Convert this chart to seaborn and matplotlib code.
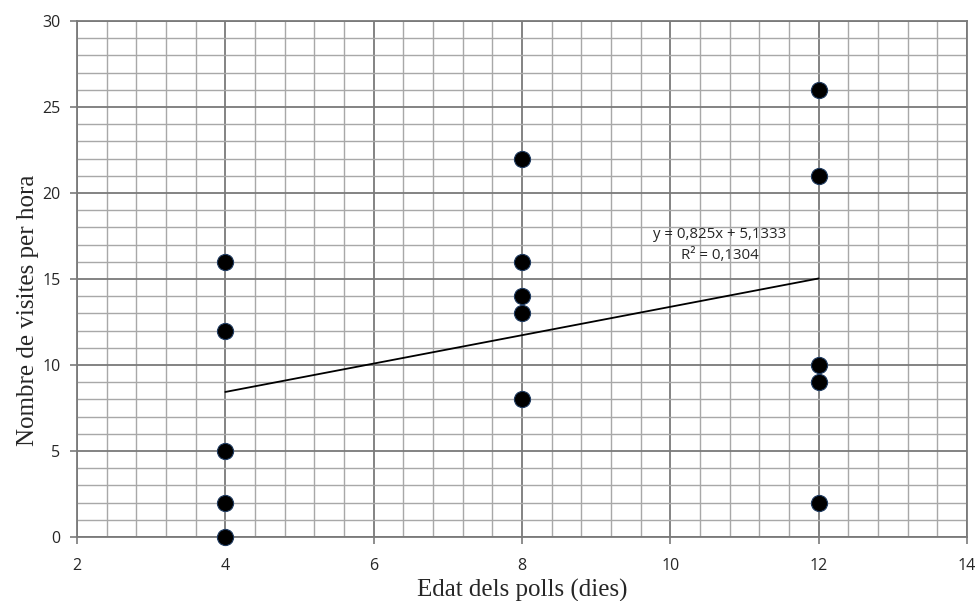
import numpy as np
import pandas as pd
import matplotlib
matplotlib.use("Agg")
import matplotlib.pyplot as plt
import seaborn as sns
from matplotlib.ticker import MultipleLocator

# dades: edat dels polls i visites per hora
edat = [4, 4, 4, 4, 4, 8, 8, 8, 8, 8, 12, 12, 12, 12, 12]
visites = [16, 12, 5, 2, 0, 22, 16, 14, 13, 8, 26, 21, 10, 9, 2]

df = pd.DataFrame({"edat": edat, "visites": visites})

# recta de regressio per a l'etiqueta
slope, intercept = np.polyfit(df["edat"], df["visites"], 1)
r2 = np.corrcoef(df["edat"], df["visites"])[0, 1] ** 2

sns.set_style("white")

fig = plt.figure(figsize=(9.78, 6.01), dpi=100)
ax = fig.add_axes([0.0787, 0.1065, 0.9101, 0.8585])

sns.regplot(data=df, x="edat", y="visites", ax=ax, ci=None, truncate=True,
            scatter_kws=dict(s=135, color="black", edgecolor="#1f3a5f", linewidths=0.8,
                             alpha=1, zorder=4, clip_on=False),
            line_kws=dict(color="black", linewidth=1.3, zorder=3))

ax.set_xlim(2, 14)
ax.set_ylim(0, 30)
ax.xaxis.set_major_locator(MultipleLocator(2))
ax.xaxis.set_minor_locator(MultipleLocator(0.4))
ax.yaxis.set_major_locator(MultipleLocator(5))
ax.yaxis.set_minor_locator(MultipleLocator(1))

ax.grid(which="major", color="#7a7a7a", linewidth=1.3, zorder=0)
ax.grid(which="minor", color="#a8a8a8", linewidth=1.0, zorder=0)
ax.set_axisbelow(True)

for side in ["left", "bottom", "top", "right"]:
    ax.spines[side].set_color("#7a7a7a")
    ax.spines[side].set_linewidth(1.3)

ax.tick_params(which="major", direction="out", length=5, width=1.2, color="#7a7a7a",
               left=True, bottom=True, labelsize=11.5)
ax.tick_params(axis="y", which="major", pad=7)
ax.tick_params(axis="x", which="major", pad=10)
ax.tick_params(which="minor", length=0)
for lab in ax.get_xticklabels() + ax.get_yticklabels():
    lab.set_fontfamily("Open Sans")

ax.set_xlabel("Edat dels polls (dies)", family="Liberation Serif", fontsize=18)
ax.set_ylabel("Nombre de visites per hora", family="Liberation Serif", fontsize=18)
ax.xaxis.set_label_coords(0.5, -0.082)
ax.yaxis.set_label_coords(-0.043, 0.44)

eq = f"y = {slope:.3f}x + {intercept:.4f}".replace(".", ",")
rr = f"R² = {r2:.4f}".replace(".", ",")
ax.text(10.67, 17.6, eq, ha="center", va="center", fontsize=10.8, family="Open Sans")
ax.text(10.67, 16.35, rr, ha="center", va="center", fontsize=10.8, family="Open Sans")

fig.savefig("out.png", dpi=100)
